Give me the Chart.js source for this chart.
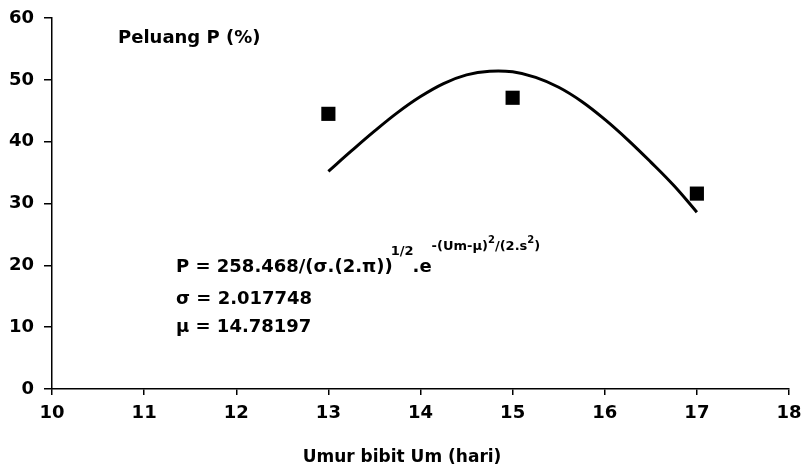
<!DOCTYPE html>
<html>
<head>
<meta charset="utf-8">
<script src="https://cdn.jsdelivr.net/npm/chart.js@4/dist/chart.umd.min.js"></script>
<style>
  html, body { margin: 0; padding: 0; background: #fff; }
  #wrap { width: 804px; height: 468px; }
</style>
</head>
<body>
<div id="wrap"><canvas id="peluangChart" width="804" height="468"></canvas></div>
<script>
// titik pengamatan
const umur = [13, 15, 17];
const peluang = [44.5, 47.1, 31.6];

// kurva normal hasil fit
const kurvaUm = [13, 13.25, 13.5, 13.75, 14, 14.25, 14.5, 14.75, 15, 15.25, 15.5, 15.75, 16, 16.25, 16.5, 16.75, 17];
const kurvaP = [35.2, 38.5, 41.7, 44.7, 47.3, 49.4, 50.8, 51.4, 51.3, 50.4, 48.8, 46.5, 43.6, 40.3, 36.7, 32.9, 28.6];

const xTicks = [10, 11, 12, 13, 14, 15, 16, 17, 18];
const yTicks = [0, 10, 20, 30, 40, 50, 60];

const FONT = '"DejaVu Sans", sans-serif';

document.addEventListener("DOMContentLoaded", function () {

    const ctx = document.getElementById('peluangChart').getContext('2d');

    // teks di dalam grafik: label sumbu Y, persamaan, judul sumbu X
    const teksPlugin = {
        id: 'teks',
        afterDraw(chart) {
            const c = chart.ctx;
            c.save();
            c.fillStyle = '#000';
            c.textBaseline = 'alphabetic';
            c.textAlign = 'left';

            c.font = 'bold 18px ' + FONT;
            c.fillText('Peluang P (%)', 118, 43);

            // persamaan
            let x = 176;
            const y1 = 272;
            const big = 'bold 18px ' + FONT;
            const small = 'bold 13px ' + FONT;
            const tiny = 'bold 10px ' + FONT;
            function put(t, font, dy, gap) {
                c.font = font;
                c.fillText(t, x, y1 + dy);
                x += c.measureText(t).width + (gap || 0);
            }
            put('P = 258.468/(σ.(2.π))', big, 0, -2);
            put('1/2', small, -17, -1);
            put('.e', big, 0, 0);
            put('-(Um-μ)', small, -22);
            put('2', tiny, -29);
            put('/(2.s', small, -22);
            put('2', tiny, -29);
            put(')', small, -22);

            c.font = big;
            c.fillText('σ = 2.017748', 176, 304);
            c.fillText('μ = 14.78197', 176, 332);

            c.font = 'bold 17px ' + FONT;
            c.textAlign = 'center';
            c.fillText('Umur bibit Um (hari)', 402, 462);
            c.restore();
        }
    };

    new Chart(ctx, {
        type: 'scatter',
        data: {
            datasets: [{
                label: 'Pengamatan',
                data: umur.map((u, i) => ({ x: u, y: peluang[i] })),
                pointStyle: 'rect',
                pointRadius: 10,
                backgroundColor: '#000',
                borderColor: '#000',
                borderWidth: 0,
                order: 1
            }, {
                label: 'Kurva',
                data: kurvaUm.map((u, i) => ({ x: u, y: kurvaP[i] })),
                showLine: true,
                pointRadius: 0,
                borderColor: '#000',
                borderWidth: 3,
                tension: 0.4,
                order: 2
            }]
        },
        options: {
            responsive: false,
            animation: false,
            layout: { padding: { top: 18, right: 15, left: 0, bottom: 0 } },
            plugins: {
                legend: { display: false },
                tooltip: { enabled: false }
            },
            scales: {
                x: {
                    type: 'linear',
                    min: 10,
                    max: 18,
                    afterBuildTicks: s => { s.ticks = xTicks.map(v => ({ value: v })); },
                    afterFit: s => { s.height = 79; s.paddingRight = 0; s.paddingLeft = 0; },
                    ticks: { color: '#000', font: { family: FONT, size: 18, weight: 'bold' }, padding: 8, maxRotation: 0 },
                    grid: { drawOnChartArea: false, tickLength: 6, color: '#000', lineWidth: 1.5 },
                    border: { color: '#000', width: 1.5 }
                },
                y: {
                    min: 0,
                    max: 60,
                    afterBuildTicks: s => { s.ticks = yTicks.map(v => ({ value: v })); },
                    afterFit: s => { s.width = 52; s.paddingTop = 0; s.paddingBottom = 0; },
                    ticks: { color: '#000', font: { family: FONT, size: 18, weight: 'bold' }, padding: 10 },
                    grid: { drawOnChartArea: false, tickLength: 8, color: '#000', lineWidth: 1.5 },
                    border: { color: '#000', width: 1.5 }
                }
            }
        },
        plugins: [teksPlugin]
    });

});
</script>
</body>
</html>
